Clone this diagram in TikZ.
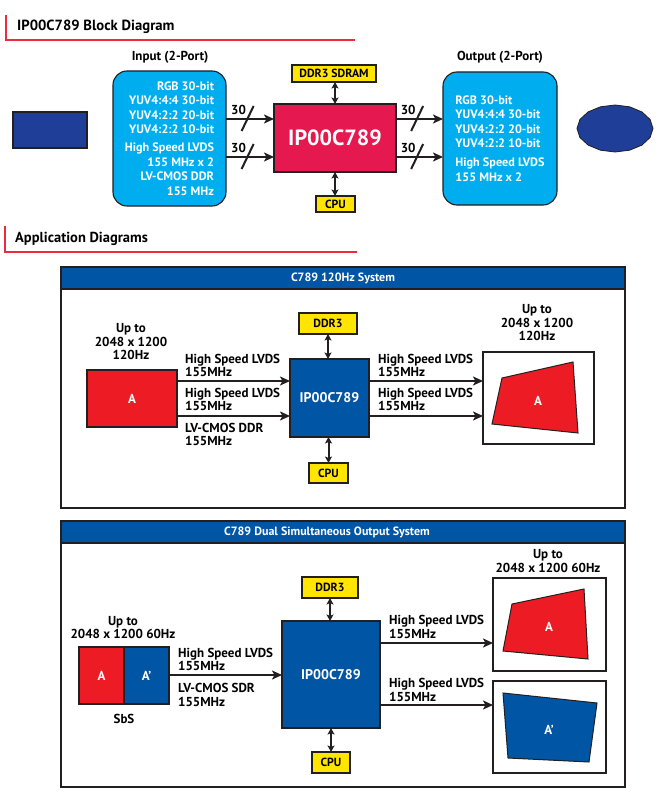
\documentclass[tikz,border=0pt]{standalone}
\usepackage{fontspec}
\setmainfont{PT Sans}
\usetikzlibrary{arrows.meta,calc}
\definecolor{bord}{HTML}{231F20}
\definecolor{cyanbox}{HTML}{00AEEF}
\definecolor{pinkip}{HTML}{E5194F}
\definecolor{ylw}{HTML}{FFE500}
\definecolor{navy}{HTML}{1F3E97}
\definecolor{panelblue}{HTML}{0055A5}
\definecolor{redA}{HTML}{ED1C24}
\definecolor{redline}{HTML}{EE2A3C}
\begin{document}
\begin{tikzpicture}[x=1pt,y=-1pt,
  box/.style={draw=bord, line width=1.1pt, inner sep=0pt, outer sep=0pt},
  ybox/.style={box, fill=ylw, font=\bfseries\fontsize{11.8}{13}\selectfont},
  lbl/.style={font=\bfseries\fontsize{13}{13.5}\selectfont, inner sep=0pt},
  ctr/.style={lbl, align=center},
  lft/.style={lbl, align=left, anchor=west},
  wtxt/.style={text=white},
  bus/.style={draw=bord, line width=2.3pt, -{Stealth[length=10pt,width=9pt,inset=2.5pt]}},
  dbl/.style={draw=bord, line width=2pt, {Stealth[length=6.5pt,width=7pt,inset=1.5pt]}-{Stealth[length=6.5pt,width=7pt,inset=1.5pt]}},
  slash/.style={draw=bord, line width=2pt},
  redrule/.style={draw=redline, line width=1.3pt},
  quad/.style={draw=bord, line width=1pt},
  headtxt/.style={font=\bfseries\fontsize{14.7}{16}\selectfont, anchor=west, inner sep=0pt},
  boxtxt/.style={wtxt, font=\bfseries\fontsize{12.2}{14.5}\selectfont},
  hdr/.style={wtxt, font=\bfseries\fontsize{12}{13}\selectfont}
]
\useasboundingbox (0,0) rectangle (660,797);
\fill[white] (0,0) rectangle (660,797);

% ---------- Block diagram ----------
\node[headtxt] (t1) at (17,27) {IP00C789 Block Diagram};
\draw[redrule] (6,15) -- (6,40) -- (355,40);

\node[box, fill=navy, minimum width=74, minimum height=36] (src) at (50,130) {};

\node[box, fill=cyanbox, rounded corners=14pt, minimum width=113, minimum height=135,
      boxtxt, align=right] (inbox) at (169.5,138.5)
  {RGB 30-bit\\YUV4:4:4 30-bit\\YUV4:2:2 20-bit\\YUV4:2:2 10-bit\\[3.5pt]High Speed LVDS\\155 MHz x 2\\LV-CMOS DDR\\155 MHz};
\node[ctr] (inlbl) at (170,57) {Input (2-Port)};

\node[box, fill=pinkip, minimum width=122, minimum height=68, wtxt,
      font=\bfseries\fontsize{22}{26}\selectfont] (iptop) at (335,138) {IP00C789};
\node[ybox, minimum width=84, minimum height=17] (ddrtop) at (334,73.5) {DDR3 SDRAM};
\node[ybox, minimum width=39, minimum height=16] (cputop) at (335.5,204) {CPU};
\draw[dbl] (ddrtop.south -| iptop.north) -- (iptop.north);
\draw[dbl] (iptop.south) -- (iptop.south |- cputop.north);

\node[box, fill=cyanbox, rounded corners=14pt, minimum width=114, minimum height=133,
      boxtxt, align=left] (outbox) at (500,138.5)
  {RGB 30-bit\\YUV4:4:4 30-bit\\YUV4:2:2 20-bit\\YUV4:2:2 10-bit\\[4.5pt]High Speed LVDS\\155 MHz x 2};
\node[ctr] (outlbl) at (500,57) {Output (2-Port)};

\coordinate (ya) at (0,119);
\coordinate (yb) at (0,157);
\foreach \yy/\nm in {ya/ia, yb/ib} {
  \draw[bus] (inbox.east |- \yy) coordinate (\nm s) -- (iptop.west |- \yy) coordinate (\nm e);
  \draw[slash] ($(\nm s)!0.45!(\nm e)$) +(-6,12) -- +(6,-13);
  \node[lbl] at ($(\nm s)!0.45!(\nm e)+(-9,-9)$) {30};
}
\foreach \yy/\nm in {ya/oa, yb/ob} {
  \draw[bus] (iptop.east |- \yy) coordinate (\nm s) -- (outbox.west |- \yy) coordinate (\nm e);
  \draw[slash] ($(\nm s)!0.45!(\nm e)$) +(-6,12) -- +(6,-13);
  \node[lbl] at ($(\nm s)!0.45!(\nm e)+(-9,-9)$) {30};
}

\draw[fill=navy, draw=bord, line width=0.8pt]
  plot[samples=17, domain=0:360] ({615+38*cos(\x)},{128.5+23.5*sin(\x)}) -- cycle;

% ---------- Application diagrams ----------
\node[headtxt, font=\bfseries\fontsize{14.5}{16}\selectfont] (t2) at (15,239) {Application Diagrams};
\draw[redrule] (5,226) -- (5,252) -- (357,252);

% Panel 1
\node[box, fill=white, minimum width=564, minimum height=241, anchor=north west] (p1) at (61,267) {};
\node[box, fill=panelblue, minimum width=564, minimum height=22, anchor=north west, hdr] (p1h) at (61,267) {C789 120Hz System};

\node[ctr] (up1) at (131,342) {Up to\\2048 x 1200\\120Hz};
\node[box, fill=redA, minimum width=90, minimum height=57, lbl, wtxt] (srcA) at (132,398.5) {A};
\node[box, fill=panelblue, minimum width=79, minimum height=78, wtxt,
      font=\bfseries\fontsize{14}{16}\selectfont] (ip1) at (329.5,398) {IP00C789};
\node[ybox, minimum width=58, minimum height=21] (ddr1) at (328,323.5) {DDR3};
\node[ybox, minimum width=39, minimum height=20] (cpu1) at (328.5,473) {CPU};
\draw[dbl] (ddr1.south) -- (ddr1.south |- ip1.north);
\draw[dbl] (cpu1.north |- ip1.south) -- (cpu1.north);

\node[box, fill=white, minimum width=111, minimum height=92] (disp1) at (538.5,398) {};
\node[ctr] (up1o) at (537,323) {Up to\\2048 x 1200\\120Hz};
\draw[quad, fill=redA] (502,378) -- (573,362) -- (578,433) -- (492,424) -- cycle;
\node[lbl, wtxt] (qa1) at (538,401) {A};

\coordinate (y1a) at (0,381);
\coordinate (y1b) at (0,416);
\draw[bus] (srcA.east |- y1a) -- (ip1.west |- y1a);
\draw[bus] (srcA.east |- y1b) -- (ip1.west |- y1b);
\draw[bus] (ip1.east |- y1a) -- (disp1.west |- y1a);
\draw[bus] (ip1.east |- y1b) -- (disp1.west |- y1b);
\node[lft] (l1) at (185,365.5) {High Speed LVDS\\155MHz};
\node[lft] (l2) at (185,399.5) {High Speed LVDS\\155MHz};
\node[lft] (l3) at (185,434.5) {LV-CMOS DDR\\155MHz};
\node[lft] (l4) at (378,365.5) {High Speed LVDS\\155MHz};
\node[lft] (l5) at (378,399.5) {High Speed LVDS\\155MHz};

% Panel 2
\node[box, fill=white, minimum width=564, minimum height=266, anchor=north west] (p2) at (61,521) {};
\node[box, fill=panelblue, minimum width=564, minimum height=22, anchor=north west] (p2h) at (61,521) {};
\node[lbl, hdr] (p2t) at (327,532) {C789 Dual Simultaneous Output System};

\node[ctr] (up2) at (123,627.5) {Up to\\2048 x 1200 60Hz};
\node[box, fill=redA, minimum width=45, minimum height=57, lbl, wtxt] (sbsA) at (101.5,675.5) {A};
\node[box, fill=panelblue, minimum width=45, minimum height=57, lbl, wtxt] (sbsB) at (146.5,675.5) {A’};
\node[lbl] (sbs) at (124,719) {SbS};

\node[box, fill=panelblue, minimum width=98, minimum height=107, wtxt,
      font=\bfseries\fontsize{14}{16}\selectfont] (ip2) at (331,674.5) {IP00C789};
\node[ybox, minimum width=56, minimum height=21] (ddr2) at (330,587.5) {DDR3};
\node[ybox, minimum width=38, minimum height=21] (cpu2) at (331,762.5) {CPU};
\draw[dbl] (ddr2.south) -- (ddr2.south |- ip2.north);
\draw[dbl] (cpu2.north |- ip2.south) -- (cpu2.north);

\coordinate (y2in) at (0,675);
\draw[bus] (sbsB.east |- y2in) -- (ip2.west |- y2in);
\node[lft] (l6) at (178,659.5) {High Speed LVDS\\155MHz};
\node[lft] (l7) at (178,695) {LV-CMOS SDR\\155MHz};

\node[box, fill=white, minimum width=113, minimum height=93] (disp2a) at (549.5,624.5) {};
\node[box, fill=white, minimum width=113, minimum height=92] (disp2b) at (549.5,727) {};
\node[ctr] (up2o) at (548,561) {Up to\\2048 x 1200 60Hz};
\draw[quad, fill=redA] (512,604) -- (584,589) -- (588,659) -- (503,651) -- cycle;
\node[lbl, wtxt] (qa2) at (549,627) {A};
\draw[quad, fill=panelblue] (503,693) -- (597,703) -- (589,762) -- (508,758) -- cycle;
\node[lbl, wtxt] (qb2) at (549,730) {A’};

\coordinate (y2a) at (0,643);
\coordinate (y2b) at (0,705);
\draw[bus] (ip2.east |- y2a) -- (disp2a.west |- y2a);
\draw[bus] (ip2.east |- y2b) -- (disp2b.west |- y2b);
\node[lft] (l8) at (389,627) {High Speed LVDS\\155MHz};
\node[lft] (l9) at (389,690) {High Speed LVDS\\155MHz};
\end{tikzpicture}
\end{document}
